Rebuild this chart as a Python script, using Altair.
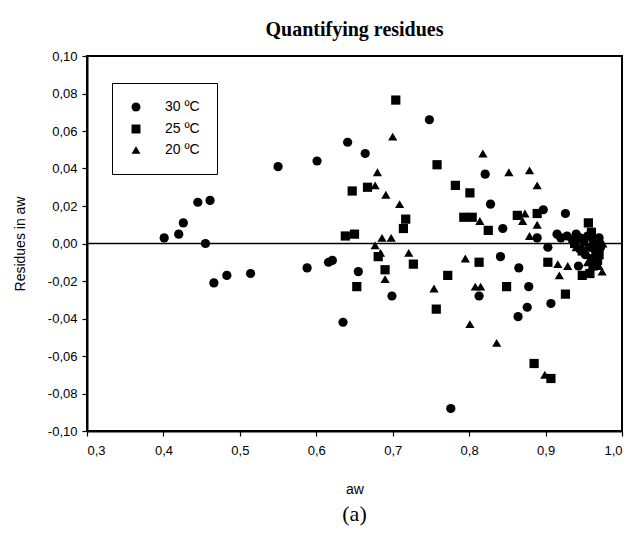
import altair as alt
import pandas as pd

# 30 ºC (circles)
aw_30 = [0.401, 0.420, 0.426, 0.445, 0.461, 0.455, 0.466, 0.483, 0.514,
         0.550, 0.601, 0.641, 0.664, 0.748,
         0.588, 0.616, 0.621, 0.655, 0.699, 0.635,
         0.776, 0.813, 0.841, 0.865, 0.878, 0.876, 0.864, 0.907, 0.903, 0.943,
         0.821, 0.828, 0.844, 0.897, 0.926, 0.889,
         0.915, 0.920, 0.928, 0.935, 0.940, 0.945, 0.950, 0.955, 0.958, 0.962,
         0.965, 0.968, 0.970, 0.972, 0.960, 0.952, 0.945, 0.966]
res_30 = [0.003, 0.005, 0.011, 0.022, 0.023, 0.000, -0.021, -0.017, -0.016,
          0.041, 0.044, 0.054, 0.048, 0.066,
          -0.013, -0.010, -0.009, -0.015, -0.028, -0.042,
          -0.088, -0.028, -0.007, -0.013, -0.023, -0.034, -0.039, -0.032, -0.002, -0.012,
          0.037, 0.021, 0.008, 0.018, 0.016, 0.003,
          0.005, 0.003, 0.004, 0.002, 0.005, 0.003, 0.001, 0.004, -0.002, 0.002,
          -0.004, 0.001, 0.003, -0.002, -0.008, -0.006, -0.003, -0.011]

# 25 ºC (squares)
aw_25 = [0.704, 0.758, 0.667, 0.647, 0.717, 0.714, 0.638, 0.650,
         0.681, 0.653, 0.690, 0.727, 0.757, 0.772, 0.813, 0.849, 0.885, 0.907,
         0.903, 0.926, 0.948,
         0.782, 0.801, 0.793, 0.804, 0.825, 0.863, 0.889, 0.956,
         0.960, 0.965, 0.970, 0.962, 0.948, 0.958, 0.938, 0.968]
res_25 = [0.0765, 0.042, 0.030, 0.028, 0.013, 0.008, 0.004, 0.005,
          -0.007, -0.023, -0.014, -0.011, -0.035, -0.017, -0.010, -0.023, -0.064, -0.072,
          -0.010, -0.027, -0.017,
          0.031, 0.027, 0.014, 0.014, 0.007, 0.015, 0.016, 0.011,
          0.006, 0.000, -0.006, -0.012, -0.004, -0.016, 0.000, -0.009]

# 20 ºC (triangles)
aw_20 = [0.700, 0.680, 0.677, 0.691, 0.709, 0.686, 0.698, 0.677, 0.684, 0.690,
         0.721, 0.754,
         0.795, 0.808, 0.815, 0.801, 0.836, 0.899, 0.916, 0.929, 0.918, 0.974,
         0.818, 0.852, 0.879, 0.889, 0.814, 0.873, 0.870, 0.889, 0.879,
         0.940, 0.955, 0.963, 0.970, 0.975, 0.950]
res_20 = [0.057, 0.038, 0.031, 0.026, 0.021, 0.003, 0.003, -0.001, -0.005, -0.019,
          -0.005, -0.024,
          -0.008, -0.023, -0.023, -0.043, -0.053, -0.070, -0.011, -0.012, -0.017, -0.015,
          0.048, 0.038, 0.039, 0.031, 0.012, 0.016, 0.012, 0.010, 0.004,
          -0.002, -0.010, -0.006, -0.012, 0.000, 0.003]

series = ["30 ºC", "25 ºC", "20 ºC"]
x_ticks = [0.3, 0.4, 0.5, 0.6, 0.7, 0.8, 0.9, 1.0]
y_ticks = [-0.10, -0.08, -0.06, -0.04, -0.02, 0.0, 0.02, 0.04, 0.06, 0.08, 0.10]

rows = []
for name, xs, ys in zip(series, [aw_30, aw_25, aw_20], [res_30, res_25, res_20]):
    for a, r in zip(xs, ys):
        rows.append({"aw": a, "res": r, "T": name})
df = pd.DataFrame(rows)
zero = pd.DataFrame({"res": [0.0]})
caption = pd.DataFrame({"t": ["(a)"]})

W, H = 535, 375
sans = "Liberation Sans"
serif = "Liberation Serif"

label_x = "replace(format(datum.value, '.1f'), '.', ',')"
label_y = "replace(replace(format(datum.value, '.2f'), '.', ','), '\u2212', '-')"

y_scale = alt.Scale(domain=[-0.10, 0.10], nice=False, zero=False)
y_axis = alt.Axis(values=y_ticks, labelExpr=label_y, grid=False, tickSize=5,
                  labelPadding=5, titlePadding=20, labelOverlap=False,
                  labelBound=False, tickCount=11)

points = alt.Chart(df).mark_point(filled=True, opacity=1, color="black", size=85).encode(
    x=alt.X("aw:Q", title="aw",
            scale=alt.Scale(domain=[0.3, 1.0], nice=False, zero=False),
            axis=alt.Axis(values=x_ticks, labelExpr=label_x, grid=False, tickSize=5,
                          labelPadding=8, titlePadding=25, labelOverlap=False)),
    y=alt.Y("res:Q", title="Residues in aw", scale=y_scale, axis=y_axis),
    shape=alt.Shape("T:N", scale=alt.Scale(domain=series,
                                           range=["circle", "square", "triangle-up"]),
                    legend=alt.Legend(title=None, orient="none", legendX=25, legendY=27,
                                      strokeColor="black", fillColor="white", padding=17,
                                      symbolFillColor="black", symbolStrokeColor="black",
                                      symbolSize=80, labelOffset=22, rowPadding=6,
                                      labelFont=sans, labelFontSize=14, labelColor="black")),
)

zero_rule = alt.Chart(zero).mark_rule(color="black", strokeWidth=1.5).encode(
    y=alt.Y("res:Q", title="Residues in aw", scale=y_scale, axis=y_axis)
)

cap = alt.Chart(caption).mark_text(font=serif, fontSize=22, color="black").encode(
    text="t:N", x=alt.value(W / 2), y=alt.value(H + 83)
)

chart = alt.layer(points, zero_rule, cap).properties(
    width=W, height=H,
    title=alt.TitleParams("Quantifying residues", font=serif, fontSize=20, fontWeight="bold",
                          color="black", offset=10, anchor="middle"),
    autosize=alt.AutoSizeParams(type="none"),
    padding={"left": 87, "top": 56, "right": 12, "bottom": 107},
).configure_view(stroke="black", strokeWidth=2).configure_axis(
    domainColor="black", tickColor="black", labelColor="black", titleColor="black",
    labelFont=sans, titleFont=sans, labelFontSize=13, titleFontSize=14,
    titleFontWeight="normal", domainWidth=2, tickWidth=1.2,
)

chart.save("out.html", embed_options={"renderer": "svg", "actions": False})
